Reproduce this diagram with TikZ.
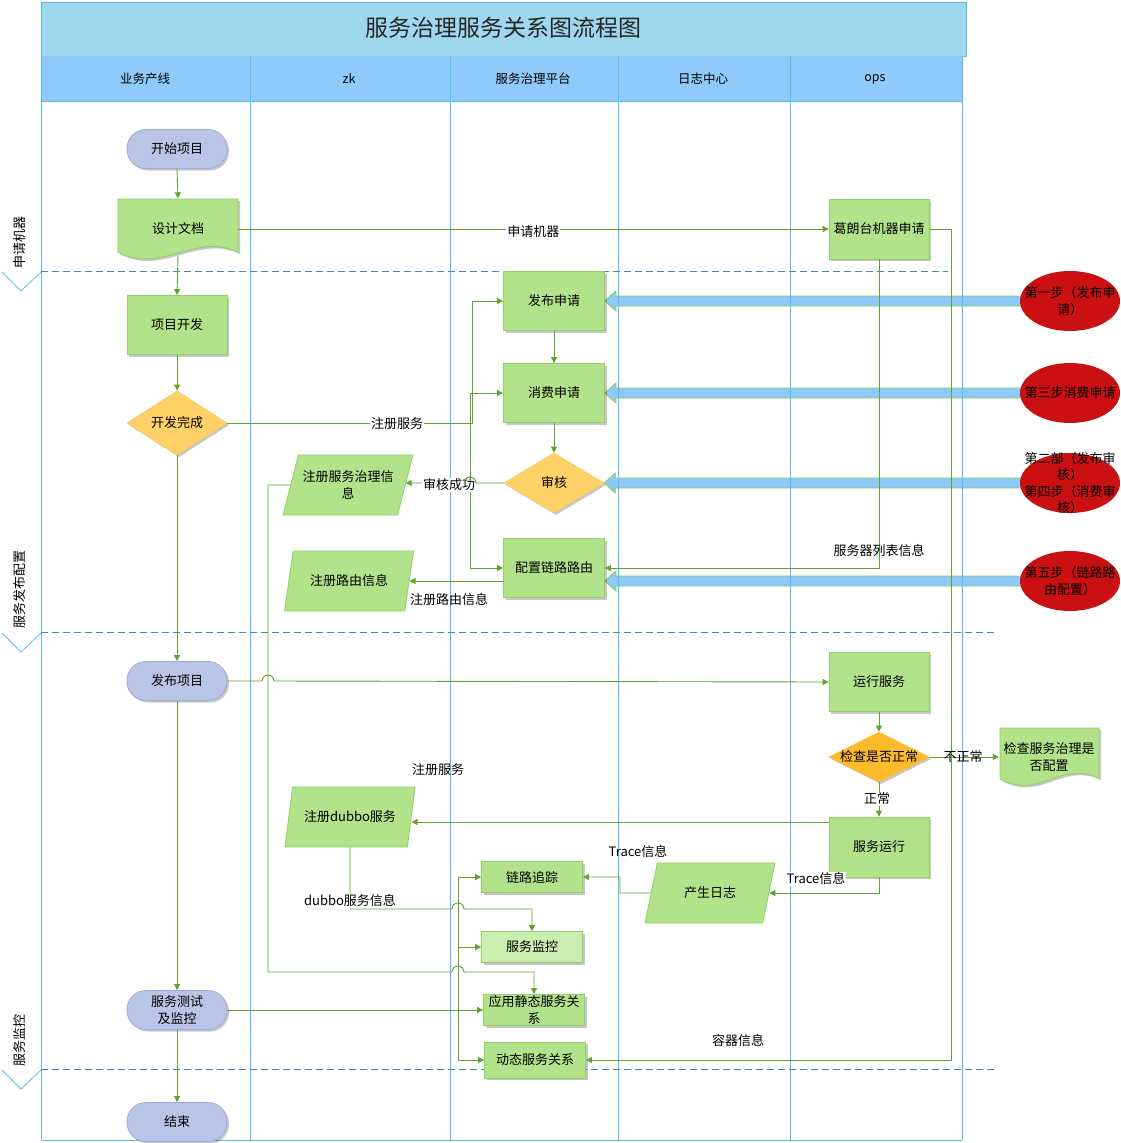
\documentclass[tikz,border=0pt]{standalone}
\usepackage{fontspec}
\newfontfamily\cjk{Noto Sans CJK SC}
\usetikzlibrary{shapes.geometric,arrows.meta,shadows,calc}
\definecolor{gfill}{HTML}{B2E289}
\definecolor{gline}{HTML}{8FD163}
\definecolor{gfill2}{HTML}{CAEDB0}
\definecolor{cline}{HTML}{5FA32E}
\definecolor{yfill}{HTML}{FFD166}
\definecolor{yline}{HTML}{F7C85E}
\definecolor{ofill}{HTML}{FCBB2A}
\definecolor{tfill}{HTML}{B9C5E6}
\definecolor{tline}{HTML}{9DABD8}
\definecolor{redf}{HTML}{CA1013}
\definecolor{bfill}{HTML}{8FC9FB}
\definecolor{bline}{HTML}{80D04F}
\definecolor{lanec}{HTML}{5BBDE5}
\definecolor{titlef}{HTML}{9FD7EF}
\definecolor{hdrf}{HTML}{8FCAFB}
\definecolor{dashc}{HTML}{3B8EAD}
\pgfdeclarelayer{arrowlayer}
\pgfdeclarelayer{lanelayer}
\pgfsetlayers{arrowlayer,lanelayer,main}
\newcommand\bluearrow[2]{%
  \filldraw[fill=bfill, draw=bline, line width=0.8pt]
    ($(#1)+(0,-5)$) -- ($(#2)+(11,-5)$) -- ($(#2)+(11,-10)$) -- (#2)
    -- ($(#2)+(11,10)$) -- ($(#2)+(11,5)$) -- ($(#1)+(0,5)$) -- cycle;}
\begin{document}
\begin{tikzpicture}[x=1pt,y=-1pt,
  base/.style={font=\cjk\fontsize{13}{16.5}\selectfont, align=center, inner sep=0pt, text=black},
  shad/.style={drop shadow={shadow xshift=2pt, shadow yshift=-2pt, opacity=0.22, fill=black}},
  gbox/.style={base, rectangle, fill=gfill, draw=gline, line width=0.8pt, minimum width=101pt, minimum height=59pt, shad},
  sbox/.style={gbox, minimum height=31pt},
  term/.style={base, rectangle, rounded corners=19pt, fill=tfill, draw=tline, line width=0.8pt, minimum width=100pt, minimum height=39pt, shad},
  dia/.style={base, diamond, fill=yfill, draw=yline, line width=0.6pt, minimum width=100pt, minimum height=60pt, shad},
  para/.style={base, trapezium, trapezium left angle=63.4, trapezium right angle=116.6, trapezium stretches=true, fill=gfill, draw=gline, line width=0.8pt, minimum width=130pt, minimum height=60pt},
  redell/.style={ellipse, fill=redf, inner sep=0pt, minimum width=100pt, minimum height=60pt},
  conn/.style={draw=cline, line width=0.9pt, -{Triangle[length=6pt,width=6pt]}},
  lbl/.style={base, fill=white, inner sep=1pt},
  txt/.style={base},
  hdr/.style={base, font=\cjk\fontsize{12.5}{15}\selectfont},
  laneline/.style={draw=lanec, line width=1pt},
  dashsep/.style={draw=dashc, line width=0.8pt, dash pattern=on 7pt off 4pt}
]
\useasboundingbox (0,0) rectangle (1120,1143);

% ---------- pool ----------
\begin{pgfonlayer}{lanelayer}
  \fill[titlef] (41,2) rectangle (966,56);
  \draw[laneline] (41,2) rectangle (966,56);
  \fill[hdrf] (41,56) rectangle (962,101);
  \draw[laneline] (41,101) -- (962,101);
  \foreach \x in {41,250,450,618,790,962} \draw[laneline] (\x,56) -- (\x,1140);
  \draw[laneline] (41,1140) -- (962,1140);
  \draw[dashsep] (41,271) -- (948,271);
  \draw[dashsep] (41,632) -- (998,632);
  \draw[dashsep] (41,1069) -- (998,1069);
  \draw[draw=lanec, line width=0.8pt] (2,272) -- (21,291) -- (41,272);
  \draw[draw=lanec, line width=0.8pt] (2,633) -- (21,652) -- (41,633);
  \draw[draw=lanec, line width=0.8pt] (2,1070) -- (21,1089) -- (41,1070);
\end{pgfonlayer}

\node[base, font=\cjk\fontsize{23}{26}\selectfont, text=black!85] (ttl) at (503,28) {服务治理服务关系图流程图};
\node[hdr] (h1) at (145,79) {业务产线};
\node[hdr] (h2) at (349,79) {zk};
\node[hdr] (h3) at (533,79) {服务治理平台};
\node[hdr] (h4) at (703,79) {日志中心};
\node[hdr] (h5) at (875,79) {ops};
\node[txt, rotate=90] (ph1) at (20,242) {申请机器};
\node[txt, rotate=90] (ph2) at (20,589) {服务发布配置};
\node[txt, rotate=90] (ph3) at (20,1040) {服务监控};

% ---------- business lane ----------
\node[term] (ksxm) at (177,149) {开始项目};
\filldraw[fill=gfill, draw=gline, line width=0.8pt, shad] (118,199) -- (238,199) -- (238,252)
  .. controls (195,232) and (160,275) .. (118,252) -- cycle;
\node[txt, minimum width=120pt, minimum height=61pt] (sjwd) at (178,229) {设计文档};
\node[gbox, minimum width=100pt] (xmkf) at (177,325) {项目开发};
\node[dia] (kfwc) at (177,423) {开发完成};
\node[term] (fbxm) at (177,681) {发布项目};
\node[term] (fwcs) at (177,1010) {服务测试\\及监控};
\node[term] (js) at (177,1122) {结束};

% ---------- governance lane ----------
\node[gbox] (fbsq) at (554,301) {发布申请};
\node[gbox] (xfsq) at (554,393) {消费申请};
\node[dia] (sh) at (554,483) {审核};
\node[gbox] (pzll) at (554,568) {配置链路路由};
\node[sbox] (llzz) at (532,877) {链路追踪};
\node[sbox, fill=gfill2] (fwjk) at (532,947) {服务监控};
\node[sbox] (yyjt) at (534,1010) {应用静态服务关\\系};
\node[gbox, minimum height=36pt] (dtfw) at (535,1060) {动态服务关系};

% ---------- zk lane ----------
\node[para] (zcfwzl) at (348,485) {注册服务治理信\\息};
\node[para] (zcly) at (349,581) {注册路由信息};
\node[para] (zcdubbo) at (350,817) {注册dubbo服务};

% ---------- log / ops lanes ----------
\node[para] (csrz) at (710,893) {产生日志};
\node[gbox, minimum width=100pt, minimum height=60pt] (glt) at (879,229) {葛朗台机器申请};
\node[gbox, minimum width=100pt] (yxfw) at (879,682) {运行服务};
\node[dia, fill=ofill, draw=ofill, minimum height=50pt] (jcsf) at (879,757) {};
\node[txt] (jcsft) at (jcsf.center) {检查是否正常};
\node[gbox, minimum width=100pt, minimum height=60pt] (fwyx) at (879,847) {服务运行};
\filldraw[fill=gfill, draw=gline, line width=0.8pt, shad] (1000,728) -- (1099,728) -- (1099,778)
  .. controls (1060,760) and (1040,800) .. (1000,779) -- cycle;
\node[txt, minimum width=100pt, minimum height=60pt] (jcfw) at (1049,757) {检查服务治理是\\否配置};

% ---------- step ellipses and blue arrows ----------
\coordinate (e1) at (1070,301);
\coordinate (e2) at (1070,393);
\coordinate (e3) at (1070,483);
\coordinate (e4) at (1070,581);
\coordinate (t1) at (fbsq.east |- e1);
\coordinate (t2) at (xfsq.east |- e2);
\coordinate (t3) at (sh.east);
\coordinate (t4) at (pzll.east |- e4);
\begin{pgfonlayer}{arrowlayer}
  \bluearrow{e1}{t1}
  \bluearrow{e2}{t2}
  \bluearrow{e3}{t3}
  \bluearrow{e4}{t4}
\end{pgfonlayer}
\node[redell] (r1) at (e1) {};
\node[redell] (r2) at (e2) {};
\node[redell] (r3) at (e3) {};
\node[redell] (r4) at (e4) {};
\node[txt] (r1t) at (e1) {第一步（发布申\\请）};
\node[txt] (r2t) at (e2) {第三步消费申请};
\node[txt] (r3t) at (e3) {第二部（发布审\\核）\\第四步（消费审\\核）};
\node[txt] (r4t) at (e4) {第五步（链路路\\由配置）};

% ---------- connectors ----------
\draw[conn] (ksxm.south) -- (sjwd.north);
\draw[conn] ([yshift=4pt]sjwd.south) -- (xmkf.north);
\draw[conn] (xmkf.south) -- (kfwc.north);
\draw[conn] (kfwc.south) -- (fbxm.north);
\draw[conn] (fbxm.south) -- (fwcs.north);
\draw[conn] (fwcs.south) -- (js.north);

\draw[conn] (sjwd.east) -- (glt.west) node[lbl, midway, yshift=-3pt] (l1) {申请机器};

\draw[conn] (kfwc.east) -- (472,423) |- (fbsq.west);
\draw[conn] (kfwc.east) -- (470,423) |- (xfsq.west);
\draw[conn] (kfwc.east) -- (470,423) |- (pzll.west);
\node[lbl] (l2) at (397,424) {注册服务};

\draw[conn] (fbsq.south) -- (xfsq.north);
\draw[conn] (xfsq.south) -- (sh.north);

\draw[conn] (sh.west) -- (476,483) arc[start angle=0, end angle=-180, radius=6] -- (sh.west -| zcfwzl.east);
\node[lbl] (l3) at (449,485) {审核成功};
\draw[cline, line width=0.9pt] (476,483) arc[start angle=0, end angle=-180, radius=6];

\draw[conn] (zcfwzl.west) -- (268,485) -- (268,972) -- (452,972)
  arc[start angle=180, end angle=360, radius=6] -- (534,972) -- (yyjt.north);

\draw[conn] (pzll.west |- zcly.east) -- (zcly.east);
\node[txt] (l4) at (449,600) {注册路由信息};

\draw[conn] (glt.south) |- (pzll.east);
\node[txt] (l5) at (879,551) {服务器列表信息};

\draw[conn] (glt.east) -- (951,229) |- (dtfw.east);
\node[txt] (l6) at (738,1041) {容器信息};

\draw[conn] (fbxm.east) -- (262,681) arc[start angle=180, end angle=360, radius=6] -- (yxfw.west);

\draw[conn] (yxfw.south) -- (jcsf.north);
\draw[conn] (jcsf.south) -- (fwyx.north);
\node[lbl] (l7) at (877,799) {正常};
\draw[conn] (jcsf.east) -- (jcfw.west);
\node[txt] (l8) at (963,757) {不正常};

\coordinate (p1) at ([yshift=25pt]fwyx.west);
\draw[conn] (p1) -- (p1 -| zcdubbo.east);
\node[txt] (l9) at (438,770) {注册服务};

\draw[conn] (zcdubbo.south) -- (350,909) -- (452,909)
  arc[start angle=180, end angle=360, radius=6] -- (532,909) -- (fwjk.north);
\node[lbl] (l10) at (350,901) {dubbo服务信息};

\draw[conn] (fwyx.south) |- (csrz.east);
\node[lbl] (l11) at (816,879) {Trace信息};

\draw[conn] (csrz.west) -- (620,893) -- (620,877) -- (llzz.east);
\node[txt] (l12) at (638,852) {Trace信息};

\draw[conn] (fwcs.east) -- (yyjt.west);
\draw[conn] (fwcs.east) -- (458,1010) |- (llzz.west);
\draw[conn] (fwcs.east) -- (458,1010) |- (fwjk.west);
\draw[conn] (fwcs.east) -- (458,1010) |- (dtfw.west);
\end{tikzpicture}
\end{document}
